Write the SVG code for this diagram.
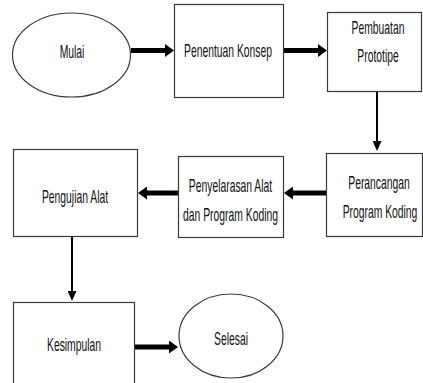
<svg xmlns="http://www.w3.org/2000/svg" width="423" height="383" viewBox="0 0 423 383">
<style>
.box{fill:#fff;stroke:#3a3a3a;stroke-width:1.2}
.t{font-family:"Liberation Sans",Arial,sans-serif;font-size:18px;fill:#111;text-anchor:middle}
.thick{stroke:#000;stroke-width:5;fill:none}
.thin{stroke:#000;stroke-width:2;fill:none}
</style>
<defs>
<marker id="hThick" markerUnits="userSpaceOnUse" markerWidth="9" markerHeight="13" refX="0" refY="6.5" orient="auto">
<path d="M0,0 L9,6.5 L0,13 z" fill="#000"/>
</marker>
<marker id="hThin" markerUnits="userSpaceOnUse" markerWidth="10" markerHeight="9" refX="0" refY="4.5" orient="auto">
<path d="M0,0 L10,4.5 L0,9 z" fill="#000"/>
</marker>
</defs>
<rect width="423" height="383" fill="#fff"/>
<g id="connectors">
<line class="thick" x1="131" y1="50.5" x2="165" y2="50.5" marker-end="url(#hThick)"/>
<line class="thick" x1="283" y1="50.5" x2="318" y2="50.5" marker-end="url(#hThick)"/>
<line class="thin" x1="377" y1="91" x2="377" y2="141" marker-end="url(#hThin)"/>
<line class="thick" x1="326" y1="193" x2="293" y2="193" marker-end="url(#hThick)"/>
<line class="thick" x1="178" y1="193" x2="147" y2="193" marker-end="url(#hThick)"/>
<line class="thin" x1="72" y1="236" x2="72" y2="291" marker-end="url(#hThin)"/>
<line class="thick" x1="135" y1="347" x2="169" y2="347" marker-end="url(#hThick)"/>
</g>
<g id="mulai">
<ellipse class="box" cx="71.5" cy="55" rx="59" ry="42"/>
<text class="t" transform="translate(72,58) scale(0.575,1)">Mulai</text>
</g>
<g id="penentuan-konsep">
<rect class="box" x="174.5" y="4.5" width="109" height="93"/>
<text class="t" transform="translate(228,57) scale(0.575,1)">Penentuan Konsep</text>
</g>
<g id="pembuatan-prototipe">
<rect class="box" x="327.5" y="12.5" width="94" height="79"/>
<text class="t" transform="translate(378,34) scale(0.575,1)">Pembuatan</text>
<text class="t" transform="translate(378,62) scale(0.575,1)">Prototipe</text>
</g>
<g id="perancangan-program-koding">
<rect class="box" x="326.5" y="153.5" width="96" height="83"/>
<text class="t" transform="translate(379,189) scale(0.575,1)">Perancangan</text>
<text class="t" transform="translate(380,218) scale(0.575,1)">Program Koding</text>
</g>
<g id="penyelarasan">
<rect class="box" x="178.5" y="156.5" width="105" height="81"/>
<text class="t" transform="translate(230.5,192) scale(0.575,1)">Penyelarasan Alat</text>
<text class="t" transform="translate(230.5,221) scale(0.575,1)">dan Program Koding</text>
</g>
<g id="pengujian-alat">
<rect class="box" x="13.5" y="149.5" width="124" height="87"/>
<text class="t" transform="translate(75,203) scale(0.575,1)">Pengujian Alat</text>
</g>
<g id="kesimpulan">
<rect class="box" x="13.5" y="302.5" width="121" height="90"/>
<text class="t" transform="translate(74,351) scale(0.575,1)">Kesimpulan</text>
</g>
<g id="selesai">
<ellipse class="box" cx="231" cy="336" rx="52" ry="42"/>
<text class="t" transform="translate(231,345) scale(0.575,1)">Selesai</text>
</g>
</svg>
